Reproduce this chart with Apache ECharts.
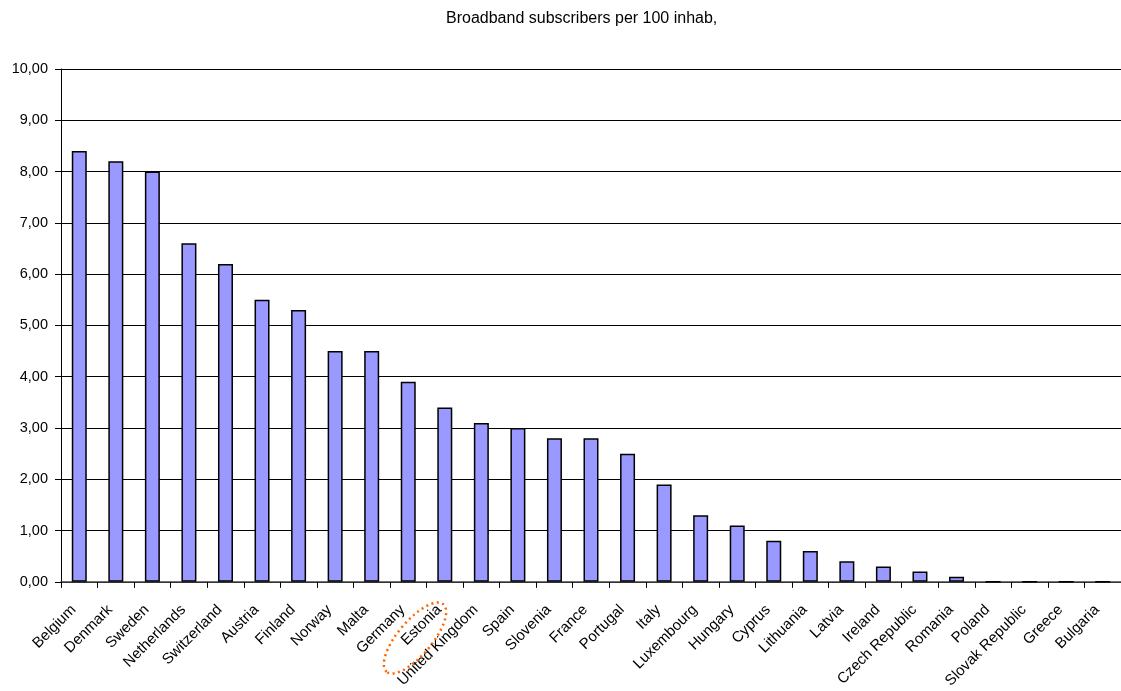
<!DOCTYPE html>
<html>
<head>
<meta charset="utf-8">
<script src="https://cdn.jsdelivr.net/npm/echarts@6/dist/echarts.min.js"></script>
<style>html,body{margin:0;padding:0;background:#fff}#c{width:1121px;height:691px}</style>
</head>
<body>
<div id="c"></div>
<script>
var titleText = 'Broadband subscribers per 100 inhab,';
var countries = ['Belgium','Denmark','Sweden','Netherlands','Switzerland','Austria','Finland','Norway','Malta','Germany','Estonia','United Kingdom','Spain','Slovenia','France','Portugal','Italy','Luxembourg','Hungary','Cyprus','Lithuania','Latvia','Ireland','Czech Republic','Romania','Poland','Slovak Republic','Greece','Bulgaria'];
var subscribers = [8.4,8.2,8.0,6.6,6.2,5.5,5.3,4.5,4.5,3.9,3.4,3.1,3.0,2.8,2.8,2.5,1.9,1.3,1.1,0.8,0.6,0.4,0.3,0.2,0.1,0,0,0,0];
var yMin = 0, yMax = 10, yStep = 1;

var chart = echarts.init(document.getElementById('c'), null, {renderer:'canvas'});
var font = 'Liberation Sans, Arial, sans-serif';
chart.setOption({
  animation: false,
  textStyle: {fontFamily: font},
  title: {
    text: titleText, left: 441, top: 6,
    textStyle: {fontSize: 16, fontWeight: 'normal', color: '#000', fontFamily: font}
  },
  grid: {left: 61, top: 69, width: 1066, height: 513.5, containLabel: false},
  xAxis: {
    type: 'category', data: countries, boundaryGap: true,
    axisLine: {lineStyle: {color: '#444', width: 1.5}},
    axisTick: {show: true, length: 6, inside: false, lineStyle: {color: '#000'}},
    axisLabel: {rotate: 45, interval: 0, fontSize: 15, color: '#000', margin: 20,
      padding: [0, 8, 0, 0], fontFamily: font},
    splitLine: {show: false}
  },
  yAxis: {
    type: 'value', min: yMin, max: yMax, interval: yStep,
    axisLine: {show: true, lineStyle: {color: '#000', width: 1}},
    axisTick: {show: true, length: 6, lineStyle: {color: '#000'}},
    axisLabel: {fontSize: 14.5, color: '#000', margin: 13, fontFamily: font,
      formatter: function (v) { return v.toFixed(2).replace('.', ','); }},
    splitLine: {show: true, lineStyle: {color: '#000', width: 1}}
  },
  series: [{
    type: 'bar', data: subscribers, barWidth: 15,
    itemStyle: {color: '#9999FF', borderColor: '#000', borderWidth: 1.5}
  }],
  graphic: [{
    type: 'ellipse', position: [415, 638], rotation: Math.PI * 50 / 180,
    shape: {cx: 0, cy: 0, rx: 44, ry: 17},
    style: {fill: 'none', stroke: '#FF6600', lineWidth: 2.5, lineDash: [2, 3.5]},
    z: 100
  }]
});
</script>
</body>
</html>
